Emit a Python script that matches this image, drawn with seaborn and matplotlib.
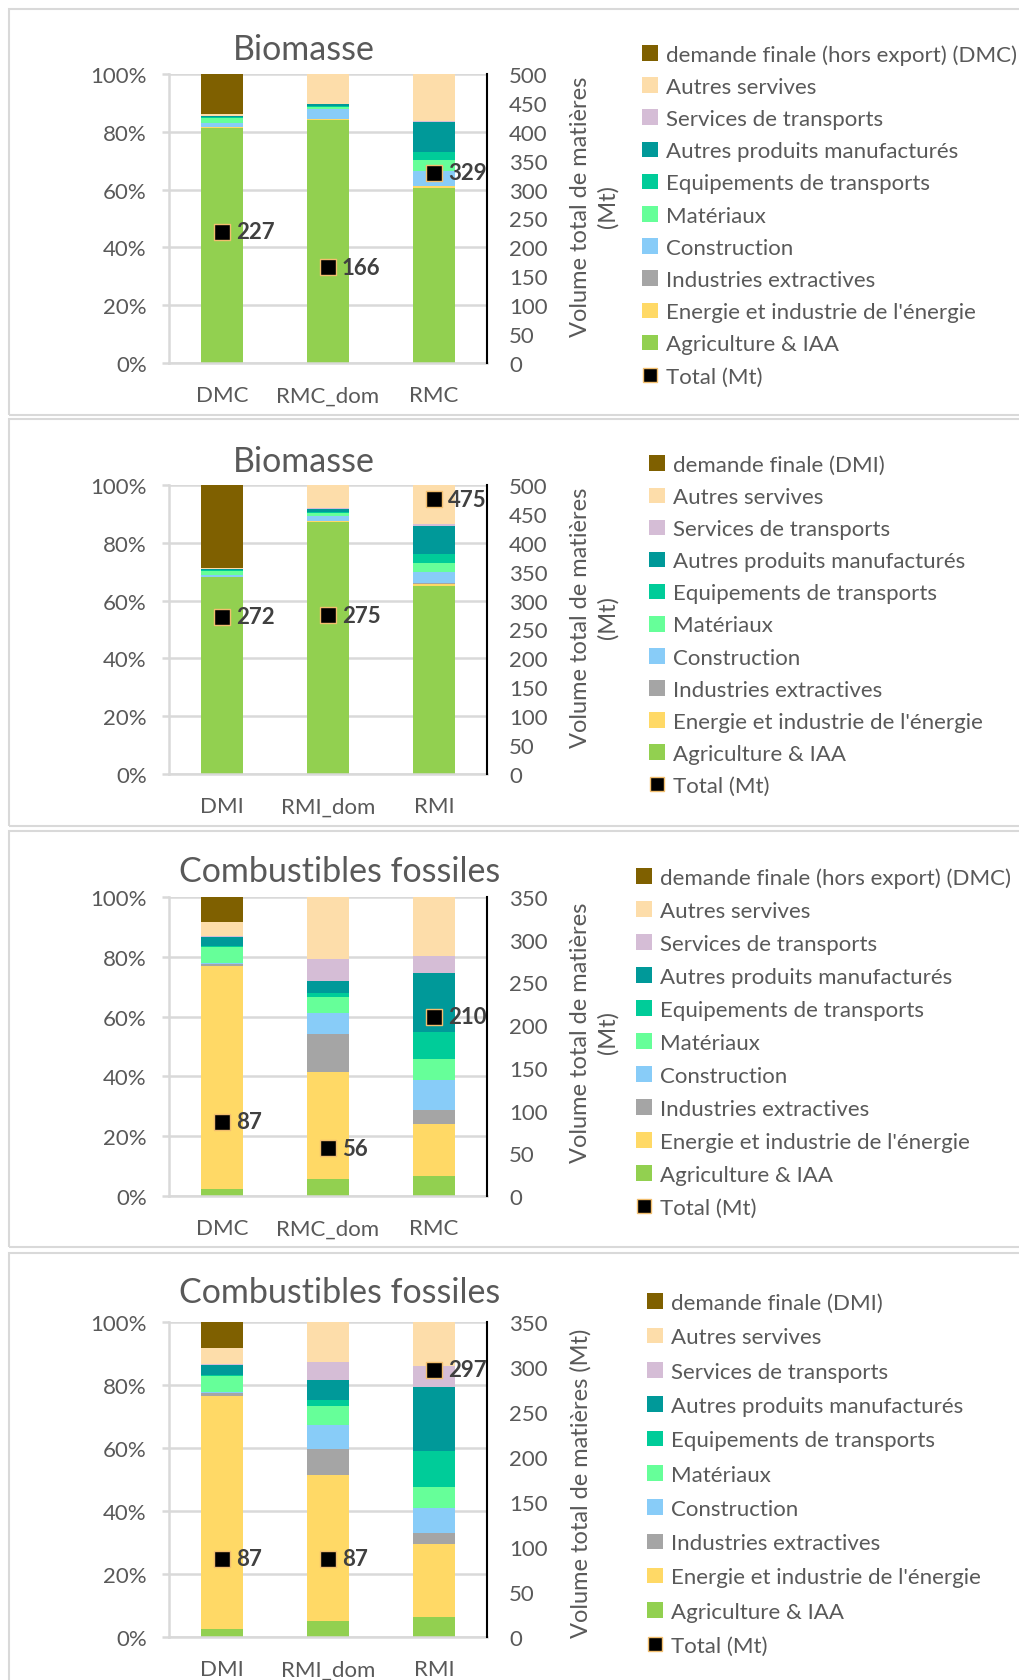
import numpy as np
import pandas as pd
import seaborn as sns
import matplotlib.pyplot as plt
from matplotlib.patches import Patch, Rectangle
from matplotlib.lines import Line2D

# sectors, bottom -> top of each stacked bar
sectors = ["Agriculture & IAA", "Energie et industrie de l'énergie", "Industries extractives",
           "Construction", "Matériaux", "Equipements de transports",
           "Autres produits manufacturés", "Services de transports", "Autres servives",
           "demande finale"]
colors = ["#92D050", "#FFD966", "#A5A5A5", "#88CCF8", "#66FF99", "#00CC99",
          "#009999", "#D5BDD6", "#FDDDAA", "#7F6000"]

cats_dmc = ["DMC", "RMC_dom", "RMC"]
cats_dmi = ["DMI", "RMI_dom", "RMI"]

# shares (%) per sector, one row per sector, columns follow the categories
bio_dmc = [[81.4, 84.2, 60.5], [0.1, 0.1, 0.7], [0.0, 0.0, 0.1], [1.4, 3.6, 5.3],
           [2.0, 0.8, 3.7], [0.2, 0.3, 2.7], [0.3, 0.6, 10.3], [0.1, 0.1, 0.5],
           [0.8, 10.3, 16.2], [13.7, 0.0, 0.0]]
bio_dmi = [[68.0, 87.3, 65.1], [0.1, 0.1, 0.8], [0.0, 0.0, 0.1], [0.9, 1.9, 3.8],
           [1.3, 0.9, 3.2], [0.2, 0.4, 3.1], [0.3, 1.2, 9.7], [0.1, 0.1, 0.6],
           [0.4, 8.1, 13.6], [28.7, 0.0, 0.0]]
fos_dmc = [[2.3, 5.8, 6.7], [74.5, 35.7, 17.5], [0.9, 12.7, 4.6], [0.2, 6.9, 9.9],
           [5.5, 5.3, 7.1], [0.3, 1.5, 9.0], [3.0, 4.0, 19.8], [0.2, 7.4, 5.7],
           [4.7, 20.7, 19.7], [8.4, 0.0, 0.0]]
fos_dmi = [[2.4, 5.0, 6.3], [74.1, 46.4, 23.3], [1.0, 8.3, 3.5], [0.2, 7.6, 8.0],
           [5.2, 5.9, 6.6], [0.4, 2.0, 11.3], [3.2, 6.3, 20.4], [0.2, 5.7, 6.6],
           [5.0, 12.8, 14.0], [8.3, 0.0, 0.0]]

tot_bio_dmc = [227, 166, 329]
tot_bio_dmi = [272, 275, 475]
tot_fos_dmc = [87, 56, 210]
tot_fos_dmi = [87, 87, 297]

W, H = 1020, 1681
GRAY = "#595959"
GRID = "#D9D9D9"

sns.set_theme(style="white")
plt.rcParams['font.family'] = ['Lato', 'DejaVu Sans']

fig = plt.figure(figsize=(W / 100, H / 100), dpi=100)


def frac_rect(x0, y0, x1, y1):
    return [x0 / W, 1 - y1 / H, (x1 - x0) / W, (y1 - y0) / H]


panels = [
    dict(title="Biomasse", cats=cats_dmc, shares=bio_dmc, tot=tot_bio_dmc, ymax=500,
         ylab="Volume total de matières\n(Mt)", yl_y=0.545, leg="demande finale (hors export) (DMC)",
         box=(9, 10, 1030, 416), ax=(169, 75, 487, 364), tx=304, ty=50,
         lx=642, ly=55, lsp=32.2),
    dict(title="Biomasse", cats=cats_dmi, shares=bio_dmi, tot=tot_bio_dmi, ymax=500,
         ylab="Volume total de matières\n(Mt)", yl_y=0.545, leg="demande finale (DMI)",
         box=(9, 420, 1030, 827), ax=(169, 486, 487, 775), tx=304, ty=462,
         lx=649, ly=466, lsp=32.1),
    dict(title="Combustibles fossiles", cats=cats_dmc, shares=fos_dmc, tot=tot_fos_dmc, ymax=350,
         ylab="Volume total de matières\n(Mt)", yl_y=0.55, leg="demande finale (hors export) (DMC)",
         box=(9, 832, 1030, 1248), ax=(169, 898, 487, 1197), tx=340, ty=872,
         lx=636, ly=878, lsp=33.0),
    dict(title="Combustibles fossiles", cats=cats_dmi, shares=fos_dmi, tot=tot_fos_dmi, ymax=350,
         ylab="Volume total de matières (Mt)", yl_y=0.49, leg="demande finale (DMI)",
         box=(9, 1254, 1030, 1700), ax=(169, 1323, 487, 1638), tx=340, ty=1293,
         lx=647, ly=1304, lsp=34.3),
]

for p in panels:
    bx0, by0, bx1, by1 = p["box"]
    fig.patches.append(Rectangle((bx0 / W, 1 - by1 / H), (bx1 - bx0) / W, (by1 - by0) / H,
                                 transform=fig.transFigure, fill=False,
                                 edgecolor=GRID, linewidth=1.5))

    ax = fig.add_axes(frac_rect(*p["ax"]))
    df = pd.DataFrame(np.array(p["shares"]).T, columns=sectors)
    df["cat"] = p["cats"]
    cum = df[sectors].cumsum(axis=1)
    # draw tallest cumulative first so each layer shows its own slice
    for sec, col in reversed(list(zip(sectors, colors))):
        sns.barplot(x=df["cat"], y=cum[sec], color=col, width=0.4, ax=ax,
                    saturation=1, linewidth=0, zorder=2)
    ax.set_xlim(-0.5, 2.5)
    ax.set_ylim(0, 100)
    ax.set_yticks(np.arange(0, 101, 20))
    ax.set_yticklabels([f"{v}%" for v in range(0, 101, 20)])
    ax.yaxis.grid(True, color=GRID, linewidth=1.8, zorder=0)
    ax.set_axisbelow(True)
    ax.set_xlabel("")
    ax.set_ylabel("")
    for s in ["top", "right"]:
        ax.spines[s].set_visible(False)
    ax.spines["left"].set_color(GRID)
    ax.spines["left"].set_linewidth(1.8)
    ax.spines["bottom"].set_color(GRID)
    ax.spines["bottom"].set_linewidth(1.8)
    ax.tick_params(axis="y", left=True, length=5, width=1.8, color=GRID,
                   labelsize=16, labelcolor=GRAY, pad=11)
    ax.tick_params(axis="x", length=0, labelsize=16, labelcolor=GRAY, pad=16)

    ax2 = ax.twinx()
    sns.scatterplot(x=p["cats"], y=p["tot"], marker="s", s=130, color="black",
                    edgecolor="#F2BE6E", linewidth=1.0, ax=ax2, zorder=5, legend=False)
    for c, v in zip(p["cats"], p["tot"]):
        ax2.annotate(str(v), (c, v), xytext=(10, 0), textcoords="offset points",
                     ha="left", va="center", fontsize=16, fontweight="bold", color="#404040")
    ax2.set_ylim(0, p["ymax"])
    ax2.set_yticks(np.arange(0, p["ymax"] + 1, 50))
    ax2.tick_params(axis="y", length=0, labelsize=16, labelcolor=GRAY, pad=16)
    for s in ["top", "left", "bottom"]:
        ax2.spines[s].set_visible(False)
    ax2.spines["right"].set_color("black")
    ax2.spines["right"].set_linewidth(1.5)
    ax2.set_ylabel(p["ylab"], fontsize=17, color=GRAY, rotation=90, linespacing=1.35)
    ax2.yaxis.set_label_coords(1.262, p["yl_y"])
    ax2.grid(False)

    fig.text(p["tx"] / W, 1 - p["ty"] / H, p["title"], ha="center", va="center",
             fontsize=24.5, color=GRAY)

    labels = [p["leg"]] + sectors[-2::-1] + ["Total (Mt)"]
    handles = [Patch(facecolor=c, edgecolor="none") for c in colors[::-1]]
    handles.append(Line2D([], [], marker="s", linestyle="none", markersize=10,
                          markerfacecolor="black", markeredgecolor="#F2BE6E"))
    fs = 16
    fspx = fs * 100 / 72
    fig.legend(handles, labels, loc="upper left",
               bbox_to_anchor=(p["lx"] / W, 1 - (p["ly"] - 10) / H),
               frameon=False, fontsize=fs, labelcolor=GRAY, borderpad=0, borderaxespad=0,
               handlelength=0.7, handleheight=0.7, handletextpad=0.4,
               labelspacing=(p["lsp"] - 20.0) / fspx)

fig.savefig("out.png", dpi=100)
